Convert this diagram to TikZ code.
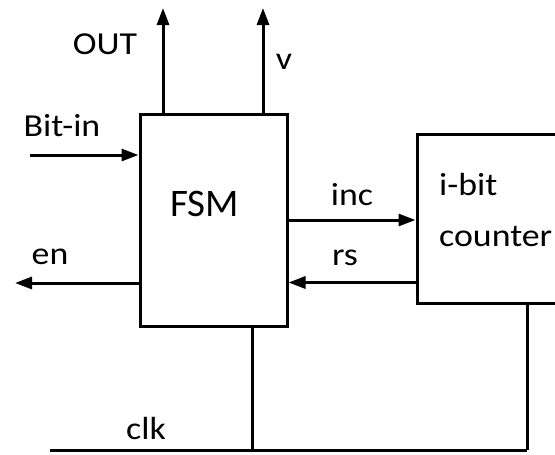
\documentclass[tikz,border=0pt]{standalone}
\usepackage{fontspec}
\setmainfont{Carlito}[FakeStretch=1.12]
\newfontfamily\blockfont{Carlito}
\usetikzlibrary{arrows.meta, positioning}

\begin{document}
\begin{tikzpicture}[
    x=1pt, y=-1pt,
    >={Triangle[length=17pt, width=12pt]},
    block/.style={draw, line width=3pt, inner sep=0pt},
    wire/.style={line width=3pt},
    lbl/.style={font=\fontsize{32}{34}\selectfont, inner sep=0pt}
  ]
  \useasboundingbox (0,0) rectangle (555,455);
  \fill[white] (0,0) rectangle (555,455);

  % blocks
  \node[block, minimum width=147pt, minimum height=212pt] (fsm) at (213.5,220) {};
  \node[block, minimum width=153pt, minimum height=169pt] (cnt) at (493.5,218.5) {};
  \node[lbl, font=\blockfont\fontsize{39}{41}\selectfont] (fsmtxt) at (204.5,204) {FSM};
  \node[lbl, anchor=west] (ibit) at (439,185) {i-bit};
  \node[lbl, anchor=west] (cnttxt) at (439,236) {counter};

  % free ends
  \coordinate (outend) at (163,8);
  \coordinate (vend) at (263,8);
  \coordinate (bitin) at (30,155);
  \coordinate (enend) at (15,283);
  \coordinate (clkl) at (50,450);
  \coordinate (clkr) at (527,450);
  \coordinate (clkm) at (252,450);

  % signals
  \draw[wire, ->] (outend |- fsm.north) -- (outend);
  \draw[wire, ->] (vend |- fsm.north) -- (vend);
  \draw[wire, ->] (bitin) -- (bitin -| fsm.west);
  \draw[wire, ->] (enend -| fsm.west) -- (enend);
  \draw[wire, ->] (fsm.east) -- (fsm.east -| cnt.west);
  \draw[wire, ->] ([yshift=-64pt]cnt.west) -- ([yshift=-64pt]cnt.west -| fsm.east);

  % clock
  \draw[wire] (clkm |- fsm.south) -- (clkm);
  \draw[wire] (clkr |- cnt.south) -- (clkr);
  \draw[wire] (clkl) -- (clkr);

  % labels
  \node[lbl] (outtxt) at (105,44) {OUT};
  \node[lbl] (vtxt) at (284,62) {v};
  \node[lbl] (bittxt) at (62,126) {Bit-in};
  \node[lbl] (entxt) at (50,257) {en};
  \node[lbl] (inctxt) at (352,195) {inc};
  \node[lbl] (rstxt) at (345,258) {rs};
  \node[lbl] (clktxt) at (146,428) {clk};
\end{tikzpicture}
\end{document}
